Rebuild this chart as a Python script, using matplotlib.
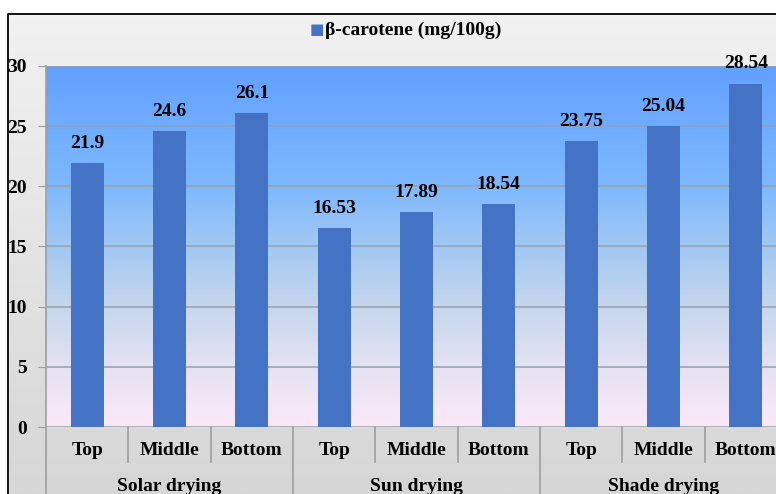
import numpy as np
import matplotlib
matplotlib.use("Agg")
import matplotlib.pyplot as plt
from matplotlib.colors import LinearSegmentedColormap
from matplotlib.patches import Rectangle

groups = ["Solar drying", "Sun drying", "Shade drying"]
positions = ["Top", "Middle", "Bottom"]
beta_carotene = [21.9, 24.6, 26.1, 16.53, 17.89, 18.54, 23.75, 25.04, 28.54]
value_labels = ["21.9", "24.6", "26.1", "16.53", "17.89", "18.54", "23.75", "25.04", "28.54"]
y_ticks = [0, 5, 10, 15, 20, 25, 30]
series_name = "β-carotene (mg/100g)"

W, H = 776, 494
plt.rcParams["font.family"] = ["Liberation Serif", "DejaVu Serif"]
plt.rcParams["font.weight"] = "bold"

fig = plt.figure(figsize=(W / 100, H / 100), dpi=100)

# outer chart background: light grey vertical gradient
bg = fig.add_axes([0, 0, 1, 1], zorder=0)
bg.set_axis_off()
grey = LinearSegmentedColormap.from_list("grey", ["#f2f2f2", "#d6d6d6"])
bg.imshow(np.linspace(0, 1, 256).reshape(-1, 1), cmap=grey, aspect="auto",
          extent=[0, 1, 0, 1], origin="upper")
bg.set_xlim(0, 1)
bg.set_ylim(0, 1)
# white strip above the chart frame and frame border
bg.add_patch(Rectangle((0, 1 - 14 / H), 1, 14 / H, color="white", zorder=2))
bg.add_patch(Rectangle((0, 0), 8 / W, 1, color="white", zorder=2))
bg.plot([8 / W, 8 / W, 1], [0, 1 - 14 / H, 1 - 14 / H], color="black", lw=1.3, zorder=3)

# plot area
left, right, top, bottom = 46, 787, 66, 427
ax = fig.add_axes([left / W, 1 - bottom / H, (right - left) / W, (bottom - top) / H], zorder=1)
n = len(beta_carotene)
x = np.arange(n)
ax.set_xlim(-0.5, n - 0.5)
ax.set_ylim(0, 30)

# blue at the top fading to pale pink at the baseline
plot_grad = LinearSegmentedColormap.from_list(
    "plotbg", [(0.0, "#62a0ff"), (0.33, "#7db8fd"), (0.5, "#a2c8f3"),
               (0.67, "#c6d6ec"), (0.83, "#e3e2f2"), (1.0, "#fce9f8")])
ax.imshow(np.linspace(0, 1, 256).reshape(-1, 1), cmap=plot_grad, aspect="auto",
          extent=[-0.5, n - 0.5, 0, 30], origin="upper", zorder=0)

for yv in y_ticks:
    ax.axhline(yv, color="#98a0aa", lw=1.1, zorder=1)

bars = ax.bar(x, beta_carotene, width=0.4, color="#4472C4", zorder=2)
for xi, val, lab in zip(x, beta_carotene, value_labels):
    ax.annotate(lab, (xi, val), xytext=(0, 8), textcoords="offset points",
                ha="center", va="bottom", fontsize=14, fontweight="bold",
                annotation_clip=False)

for s in ["top", "right", "bottom"]:
    ax.spines[s].set_visible(False)
ax.spines["left"].set_color("#9e9e9e")
ax.spines["left"].set_linewidth(1.2)
ax.set_yticks(y_ticks)
ax.set_yticklabels([str(t) for t in y_ticks], fontsize=14, fontweight="bold")
ax.tick_params(axis="y", length=6, color="#9e9e9e", pad=8)
ax.set_xticks([])

# two-level category axis
trans = ax.get_xaxis_transform()
px = 1 / (bottom - top)  # one pixel in axes-fraction units
for i, lab in enumerate(positions * len(groups)):
    ax.text(i, -23 * px, lab, transform=trans, ha="center", va="center",
            fontsize=14, fontweight="bold")
for g, name in enumerate(groups):
    ax.text(g * 3 + 1, -59 * px, name, transform=trans, ha="center", va="center",
            fontsize=14, fontweight="bold")
for i in range(n + 1):
    xb = i - 0.5
    if i % 3 == 0:
        y0 = -80 * px
    else:
        y0 = -35 * px
    ax.plot([xb, xb], [0, y0], transform=trans, color="#9e9e9e", lw=1.2,
            clip_on=False, zorder=3)

# legend
fig.text(317 / W, 1 - 30 / H, "■", color="#4472C4", fontsize=11, ha="center",
         va="center", family="DejaVu Sans")
fig.text(325 / W, 1 - 30 / H, series_name, fontsize=14, fontweight="bold",
         ha="left", va="center")

fig.savefig("out.png", dpi=100)
